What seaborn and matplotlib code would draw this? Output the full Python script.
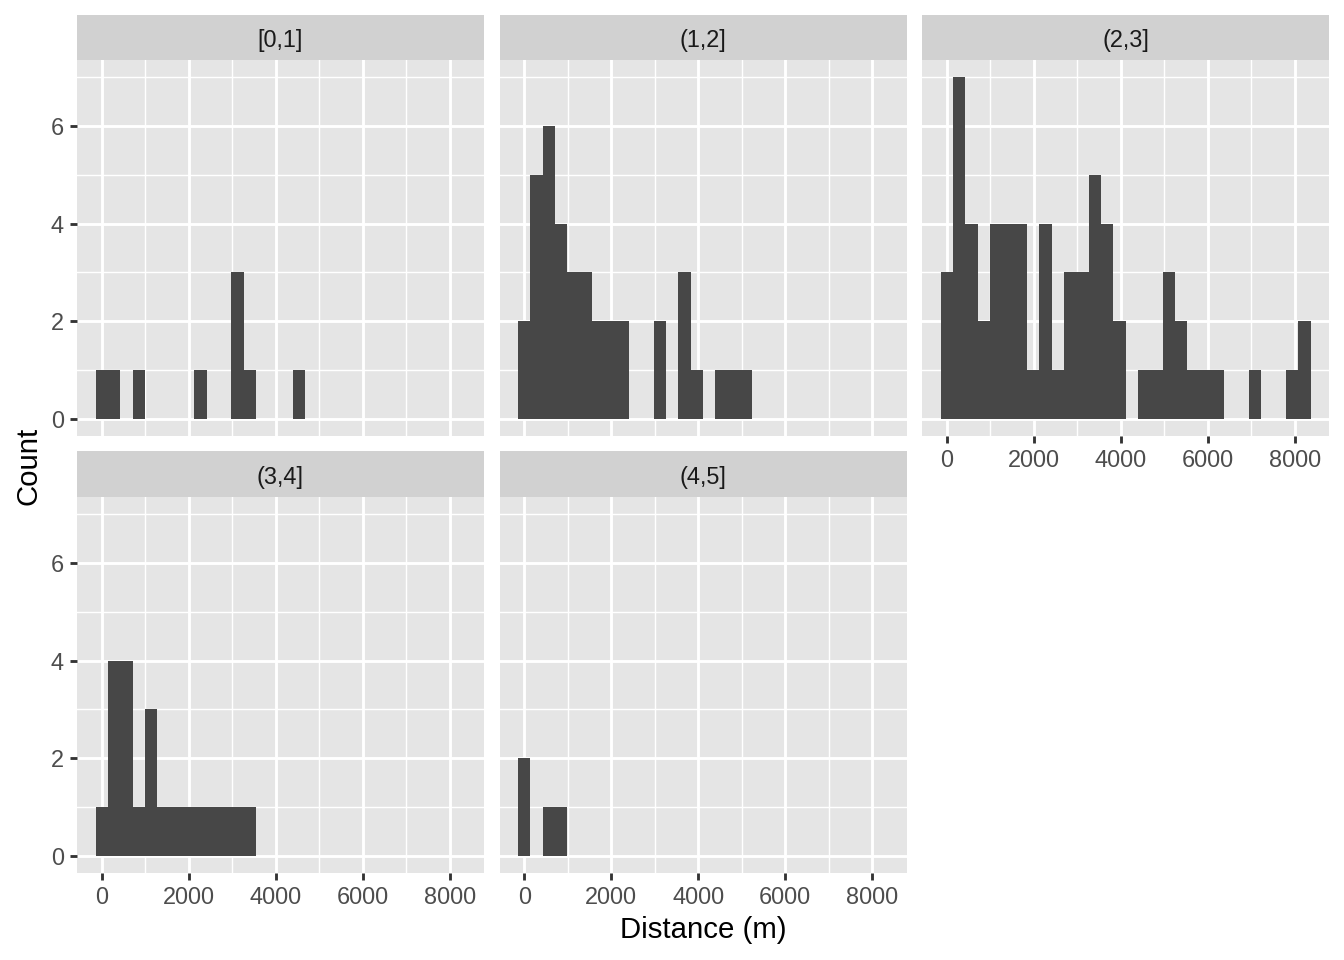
import numpy as np
import pandas as pd
import matplotlib
matplotlib.use("Agg")
import matplotlib.pyplot as plt
from matplotlib.ticker import FixedLocator
import seaborn as sns

# ---------------- data ----------------
facets = ["[0,1]", "(1,2]", "(2,3]", "(3,4]", "(4,5]"]
BIN_START = -142.0
BIN_WIDTH = 283.6
N_BINS = 30

counts_0_1 = [1, 1, 0, 1, 0, 0, 0, 0, 1, 0, 0, 3, 1, 0, 0, 0, 1, 0, 0, 0,
              0, 0, 0, 0, 0, 0, 0, 0, 0, 0]
counts_1_2 = [2, 5, 6, 4, 3, 3, 2, 2, 2, 0, 0, 2, 0, 3, 1, 0, 1, 1, 1, 0,
              0, 0, 0, 0, 0, 0, 0, 0, 0, 0]
counts_2_3 = [3, 7, 4, 2, 4, 4, 4, 1, 4, 1, 3, 3, 5, 4, 2, 0, 1, 1, 3, 2,
              1, 1, 1, 0, 0, 1, 0, 0, 1, 2]
counts_3_4 = [1, 4, 4, 1, 3, 1, 1, 1, 1, 1, 1, 1, 1, 0, 0, 0, 0, 0, 0, 0,
              0, 0, 0, 0, 0, 0, 0, 0, 0, 0]
counts_4_5 = [2, 0, 1, 1, 0, 0, 0, 0, 0, 0, 0, 0, 0, 0, 0, 0, 0, 0, 0, 0,
              0, 0, 0, 0, 0, 0, 0, 0, 0, 0]
all_counts = [counts_0_1, counts_1_2, counts_2_3, counts_3_4, counts_4_5]

x_ticks = [0, 2000, 4000, 6000, 8000]
y_ticks = [0, 2, 4, 6]
x_label = "Distance (m)"
y_label = "Count"

edges = BIN_START + BIN_WIDTH * np.arange(N_BINS + 1)
centers = (edges[:-1] + edges[1:]) / 2

rows = []
for name, cts in zip(facets, all_counts):
    for c, w in zip(centers, cts):
        rows.append({"facet": name, "distance": float(c), "n": float(w)})
df = pd.DataFrame(rows)

# ---------------- style ----------------
plt.rcParams["font.family"] = ["Liberation Sans", "DejaVu Sans"]
BAR = "#474747"
PANEL = "#E5E5E5"
STRIP = "#D1D1D1"

W, H = 1344, 960
fig = plt.figure(figsize=(7, 5), dpi=192)

lefts = [77, 499.5, 922]
pw = 407
rows_px = [(15, 60, 436), (451, 497, 873)]  # strip top, panel top, panel bottom

span = edges[-1] - edges[0]
xlim = (edges[0] - 0.05 * span, edges[-1] + 0.05 * span)
ylim = (-0.35, 7.35)

for i, name in enumerate(facets):
    r, c = divmod(i, 3)
    st, pt, pb = rows_px[r]
    left = lefts[c]
    ax = fig.add_axes([left / W, 1 - pb / H, pw / W, (pb - pt) / H])
    sax = fig.add_axes([left / W, 1 - pt / H, pw / W, (pt - st) / H])

    sub = df[df["facet"] == name]
    sns.histplot(data=sub, x="distance", weights="n", binwidth=BIN_WIDTH,
                 binrange=(float(edges[0]), float(edges[-1])), ax=ax,
                 color=BAR, edgecolor="none", linewidth=0, alpha=1)

    ax.set_facecolor(PANEL)
    ax.set_xlim(*xlim)
    ax.set_ylim(*ylim)
    for s in ax.spines.values():
        s.set_visible(False)
    ax.xaxis.set_major_locator(FixedLocator(x_ticks))
    ax.xaxis.set_minor_locator(FixedLocator([1000, 3000, 5000, 7000]))
    ax.yaxis.set_major_locator(FixedLocator(y_ticks))
    ax.yaxis.set_minor_locator(FixedLocator([1, 3, 5, 7]))
    ax.set_xticklabels([str(v) for v in x_ticks])
    ax.set_yticklabels([str(v) for v in y_ticks])
    ax.set_axisbelow(True)
    ax.grid(which="major", color="white", linewidth=1.07)
    ax.grid(which="minor", color="white", linewidth=0.53)
    ax.tick_params(which="minor", length=0)
    ax.tick_params(which="major", direction="out", length=2.75, width=1.07,
                   color="#333333", labelsize=8.8, labelcolor="#4D4D4D", pad=2.2)
    ax.set_xlabel("")
    ax.set_ylabel("")

    show_x = (r == 1) or (c == 2)
    show_y = (c == 0)
    if not show_x:
        ax.tick_params(axis="x", bottom=False, labelbottom=False)
    if not show_y:
        ax.tick_params(axis="y", left=False, labelleft=False)

    sax.set_facecolor(STRIP)
    sax.set_xticks([])
    sax.set_yticks([])
    for s in sax.spines.values():
        s.set_visible(False)
    sax.text(0.5, 0.43, name, ha="center", va="center", fontsize=8.8,
             color="#1A1A1A", transform=sax.transAxes)

fig.text(703 / W, 1 - 930 / H, x_label, ha="center", va="center",
         fontsize=11, color="black")
fig.text(28 / W, 1 - 466 / H, y_label, ha="center", va="center",
         fontsize=11, color="black", rotation=90)

fig.savefig("out.png", dpi=192, facecolor="white")
